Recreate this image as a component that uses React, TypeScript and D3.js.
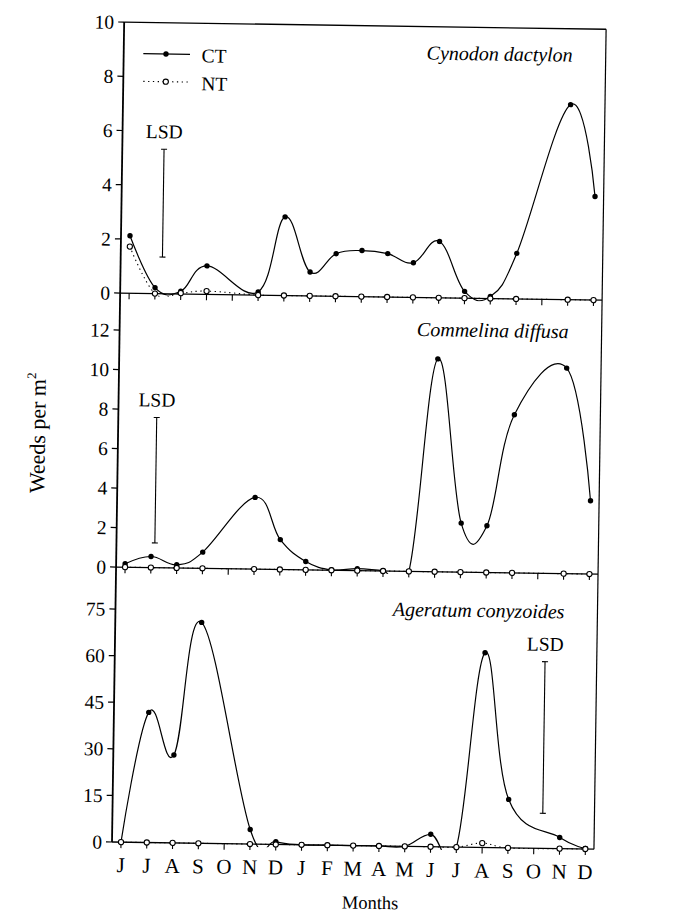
import React from 'react';
import * as d3 from 'd3';

// ---------- data ----------
const months = ['J', 'J', 'A', 'S', 'O', 'N', 'D', 'J', 'F', 'M', 'A', 'M', 'J', 'J', 'A', 'S', 'O', 'N', 'D'];

const cynodonCT = [2.12, 0.22, 0.1, 1.05, null, 0.12, 2.9, 0.88, 1.57, 1.7, 1.6, 1.28, 2.08, 0.25, 0.08, 1.68, null, 7.2, 3.82];
const cynodonNT = [1.72, 0, 0.03, 0.12, null, 0, 0, 0, 0, 0, 0, 0, 0, 0, 0, 0, null, 0, 0];

const commelinaCT = [0.17, 0.56, 0.16, 0.82, null, 3.63, 1.51, 0.42, 0.02, 0.1, 0.02, 0, 10.78, 2.48, 2.37, 8.01, null, 10.41, 3.71];
const commelinaNT = [0, 0, 0, 0, null, 0, 0, 0, 0, 0, 0, 0, 0, 0, 0, 0, null, 0, 0];

const ageratumCT = [0, 41.9, 28.3, 71.1, null, 4.7, 0.9, 0, 0, 0, 0, 0, 4.0, 0, 62.7, 15.6, null, 3.6, 0.2];
const ageratumNT = [0, 0, 0, 0, null, 0, 0, 0, 0, 0, 0, 0, 0, 0, 1.4, 0, null, 0, 0];

const cynodonTicks = [0, 2, 4, 6, 8, 10];
const commelinaTicks = [0, 2, 4, 6, 8, 10, 12];
const ageratumTicks = [0, 15, 30, 45, 60, 75];

const speciesNames = ['Cynodon dactylon', 'Commelina diffusa', 'Ageratum conyzoides'];
const lsdPosition = [1.27, 1.14, 16.33]; // month index
const lsdLow = [1.35, 1.25, 11.3];
const lsdHigh = [5.33, 7.6, 60.1];

const legendLabels = ['CT', 'NT'];

// ---------- layout ----------
const W = 676;
const H = 916;
const axisX = 112;
const rightX = 594;
const FONT = "'Liberation Serif', 'Times New Roman', serif";

const x = d3.scaleLinear().domain([0, 18]).range([121, 585.4]);

const panels = [
  { ct: cynodonCT, nt: cynodonNT, ticks: cynodonTicks, y: d3.scaleLinear().domain([0, 10]).range([293, 22]), top: 22, labelY: 55 },
  { ct: commelinaCT, nt: commelinaNT, ticks: commelinaTicks, y: d3.scaleLinear().domain([0, 12]).range([567, 330]), top: 293, labelY: 331.5 },
  { ct: ageratumCT, nt: ageratumNT, ticks: ageratumTicks, y: d3.scaleLinear().domain([0, 75]).range([842, 609]), top: 567, labelY: 611.7 },
];

type Pt = [number, number];
const toPts = (arr: (number | null)[]): Pt[] =>
  arr.map((v, i) => [i, v] as [number, number | null]).filter((d) => d[1] !== null) as Pt[];

export default function App() {
  return (
    <div style={{ position: 'absolute', left: 0, top: 0 }}>
      <svg width={W} height={H} viewBox={`0 0 ${W} ${H}`} style={{ display: 'block', background: '#fff' }}>
        <defs>
          {panels.map((p, k) => (
            <clipPath id={`clip${k}`} key={k}>
              <rect x={0} y={p.top - 30} width={W} height={p.y(0) - p.top + 33} />
            </clipPath>
          ))}
        </defs>
        <g transform={`rotate(0.85 ${axisX} 842)`} fontFamily={FONT} fill="#000">
          {/* frame */}
          <line x1={axisX} x2={axisX} y1={22} y2={842} stroke="#000" strokeWidth={1.8} />
          <line x1={rightX} x2={rightX} y1={22} y2={842} stroke="#000" strokeWidth={1.2} />
          <line x1={axisX} x2={rightX} y1={22} y2={22} stroke="#000" strokeWidth={1.3} />

          {panels.map((p, k) => {
            const y = p.y;
            const base = y(0);
            const line = d3
              .line<Pt>()
              .x((d) => x(d[0]))
              .y((d) => y(d[1]))
              .curve(d3.curveCardinal.tension(-0.15));
            const ctPts = toPts(p.ct);
            const ntPts = toPts(p.nt);
            const lx = x(lsdPosition[k]);
            const lyTop = y(lsdHigh[k]);
            const lyBot = y(lsdLow[k]);
            return (
              <g key={k}>
                {/* baseline axis */}
                <line x1={axisX} x2={rightX} y1={base} y2={base} stroke="#000" strokeWidth={1.3} />
                {months.map((m, i) => (
                  <line key={i} x1={x(i)} x2={x(i)} y1={base} y2={base + 6} stroke="#000" strokeWidth={1.1} />
                ))}
                {/* left ticks */}
                {p.ticks.map((t) => (
                  <g key={t}>
                    <line x1={axisX - 6} x2={axisX} y1={y(t)} y2={y(t)} stroke="#000" strokeWidth={1.2} />
                    <text x={axisX - 10} y={y(t)} dy="0.35em" textAnchor="end" fontSize={19.5}>
                      {t}
                    </text>
                  </g>
                ))}
                {/* species name */}
                <text x={561} y={p.labelY} textAnchor="end" fontSize={20} fontStyle="italic">
                  {speciesNames[k]}
                </text>
                {/* LSD */}
                <text x={lx} y={lyTop - 11} textAnchor="middle" fontSize={19.5}>
                  LSD
                </text>
                <line x1={lx} x2={lx} y1={lyTop} y2={lyBot} stroke="#000" strokeWidth={1.1} />
                <line x1={lx - 3} x2={lx + 3} y1={lyTop} y2={lyTop} stroke="#000" strokeWidth={1.1} />
                <line x1={lx - 3} x2={lx + 3} y1={lyBot} y2={lyBot} stroke="#000" strokeWidth={1.1} />

                {/* series lines */}
                <g clipPath={`url(#clip${k})`}>
                  <path d={line(ntPts) || ''} fill="none" stroke="#000" strokeWidth={1.1} strokeDasharray="1.3 3.5" />
                  <path d={line(ctPts) || ''} fill="none" stroke="#000" strokeWidth={1.2} />
                </g>
                {ctPts.map((d, i) => (
                  <circle key={'c' + i} cx={x(d[0])} cy={y(d[1])} r={2.7} fill="#000" />
                ))}
                {ntPts.map((d, i) => (
                  <circle key={'n' + i} cx={x(d[0])} cy={y(d[1])} r={2.6} fill="#fff" stroke="#000" strokeWidth={1.1} />
                ))}
              </g>
            );
          })}

          {/* month labels */}
          {months.map((m, i) => (
            <text key={i} x={x(i)} y={872} textAnchor="middle" fontSize={21}>
              {m}
            </text>
          ))}
          <text x={371} y={905} textAnchor="middle" fontSize={18.5}>
            Months
          </text>

          {/* y label */}
          <text transform={`translate(39,434) rotate(-90)`} textAnchor="middle" fontSize={22}>
            Weeds per m
            <tspan fontSize={13} dy="-0.75em">2</tspan>
          </text>

          {/* legend */}
          <line x1={131.6} x2={178.3} y1={53.3} y2={53.3} stroke="#000" strokeWidth={1.2} />
          <circle cx={154.3} cy={53.3} r={2.7} fill="#000" />
          <text x={190} y={61} fontSize={19.5}>
            {legendLabels[0]}
          </text>
          <line x1={132} x2={178.7} y1={81} y2={81} stroke="#000" strokeWidth={1.1} strokeDasharray="1.3 3.5" />
          <circle cx={154.5} cy={81} r={2.6} fill="#fff" stroke="#000" strokeWidth={1.1} />
          <text x={190} y={89} fontSize={19.5}>
            {legendLabels[1]}
          </text>
        </g>
      </svg>
    </div>
  );
}
